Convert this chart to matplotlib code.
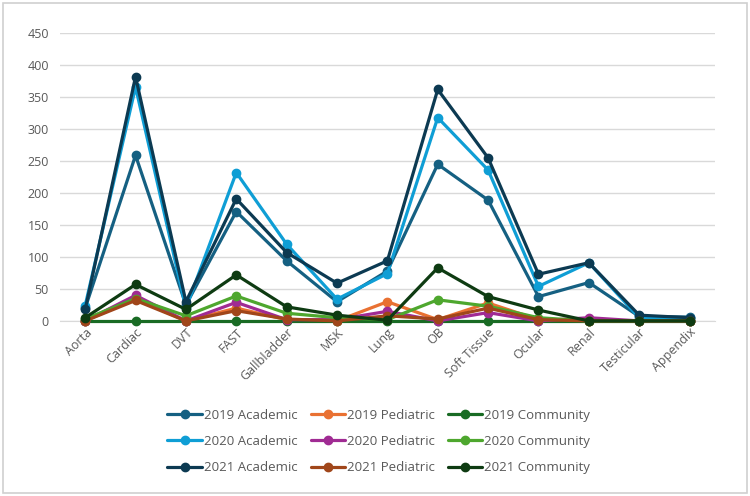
import numpy as np
import matplotlib.pyplot as plt
from matplotlib.patches import Rectangle

plt.rcParams['font.family'] = ['Open Sans', 'DejaVu Sans']

categories = ['Aorta', 'Cardiac', 'DVT', 'FAST', 'Gallbladder', 'MSK', 'Lung',
              'OB', 'Soft Tissue', 'Ocular', 'Renal', 'Testicular', 'Appendix']

# values
academic_2019 = [20, 259, 25, 171, 94, 30, 78, 245, 189, 38, 60, 7, 6]
pediatric_2019 = [0, 35, 0, 20, 2, 0, 30, 2, 28, 2, 0, 0, 0]
community_2019 = [0, 0, 0, 0, 0, 0, 0, 0, 0, 0, 0, 0, 0]
academic_2020 = [24, 366, 20, 232, 120, 34, 74, 318, 236, 54, 91, 5, 4]
pediatric_2020 = [0, 40, 0, 29, 2, 2, 15, 0, 13, 0, 5, 0, 0]
community_2020 = [3, 35, 8, 39, 12, 5, 2, 33, 23, 5, 0, 0, 0]
academic_2021 = [18, 382, 30, 191, 107, 59, 94, 362, 255, 73, 91, 9, 5]
pediatric_2021 = [0, 32, 0, 16, 3, 0, 8, 3, 20, 2, 0, 0, 0]
community_2021 = [5, 57, 18, 72, 22, 9, 1, 83, 38, 17, 0, 0, 0]

series = [
    ('2019 Academic', academic_2019, '#156082'),
    ('2019 Pediatric', pediatric_2019, '#E97132'),
    ('2019 Community', community_2019, '#196B24'),
    ('2020 Academic', academic_2020, '#0F9ED5'),
    ('2020 Pediatric', pediatric_2020, '#A02B93'),
    ('2020 Community', community_2020, '#4EA72E'),
    ('2021 Academic', academic_2021, '#0C3A52'),
    ('2021 Pediatric', pediatric_2021, '#A0461A'),
    ('2021 Community', community_2021, '#0E3B12'),
]

fig = plt.figure(figsize=(7.5, 4.96), dpi=100)
ax = fig.add_axes([0.08, 0.353, 0.873, 0.58])

x = np.arange(len(categories))
handles = {}
for name, vals, col in series:
    h, = ax.plot(x, vals, color=col, lw=2.3, marker='o', ms=6, label=name,
                 solid_capstyle='round', zorder=3, clip_on=False)
    handles[name] = h

ax.set_xlim(-0.5, len(categories) - 0.5)
ax.set_ylim(0, 450)
ax.set_yticks(np.arange(0, 451, 50))
ax.yaxis.grid(True, color='#D9D9D9', lw=1)
ax.set_axisbelow(True)
for s in ['top', 'right', 'left']:
    ax.spines[s].set_visible(False)
ax.spines['bottom'].set_color('#D9D9D9')
ax.spines['bottom'].set_zorder(1)
ax.tick_params(axis='both', length=0, colors='#595959', labelsize=9)
ax.tick_params(axis='y', pad=8)
ax.set_xticks(x)
ax.set_xticklabels(categories, rotation=45, ha='right', rotation_mode='anchor')

# legend rows are by year, columns by site type
order = []
for kind in ['Academic', 'Pediatric', 'Community']:
    for yr in ['2019', '2020', '2021']:
        order.append(f'{yr} {kind}')
fig.legend([handles[n] for n in order], order, loc='center', ncol=3,
           bbox_to_anchor=(0.505, 0.11), frameon=False, fontsize=9.5,
           handlelength=2.6, handletextpad=0.15, columnspacing=1.0,
           labelspacing=1.0, labelcolor='#595959')

fig.patches.append(Rectangle((0.004, 0.006), 0.992, 0.988, transform=fig.transFigure,
                             fill=False, edgecolor='#D0D0D0', lw=1.2))

fig.savefig('out.png', dpi=100)
